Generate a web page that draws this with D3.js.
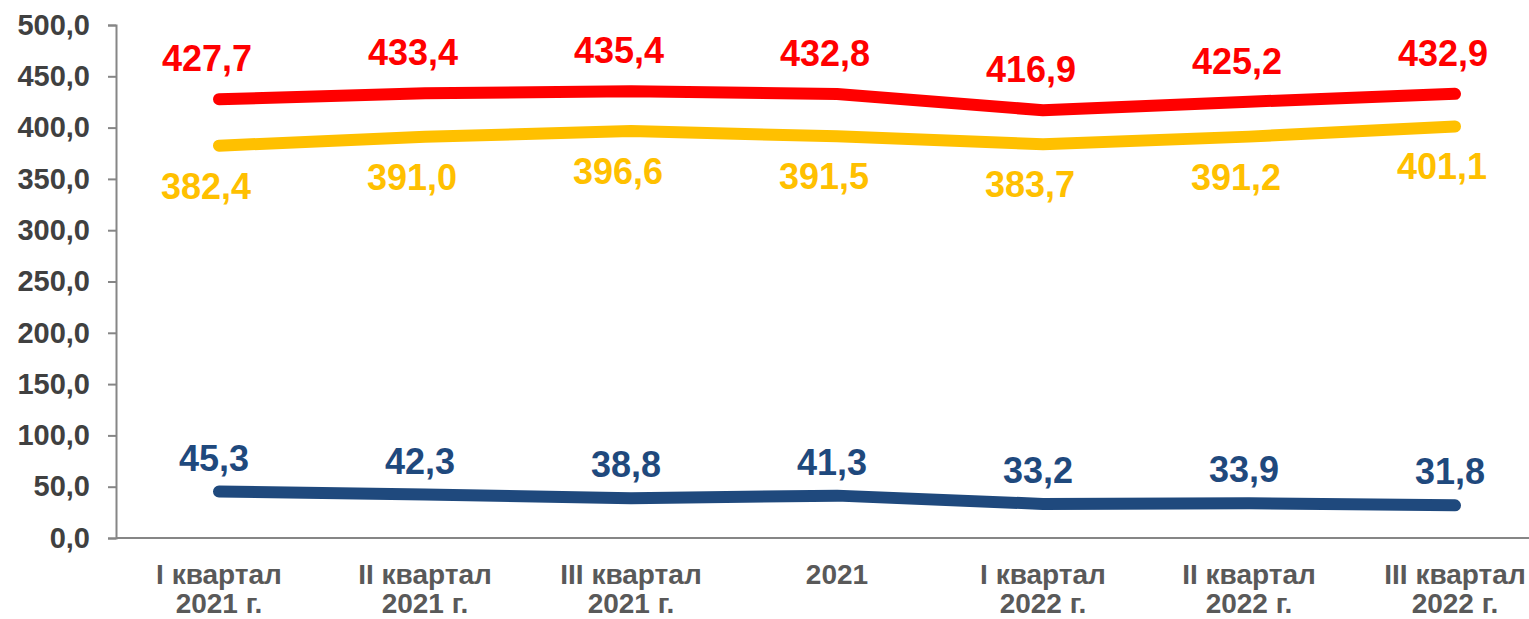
<!DOCTYPE html>
<html>
<head>
<meta charset="utf-8">
<script src="https://cdn.jsdelivr.net/npm/d3@7"></script>
<style>
  html, body { margin: 0; padding: 0; background: #fff; overflow: hidden; }
  text { font-family: "Liberation Sans", Arial, sans-serif; font-weight: bold; }
</style>
</head>
<body>
<script>
// 카테고리 (두 줄 레이블)
const categories = [
    ['I квартал', '2021 г.'],
    ['II квартал', '2021 г.'],
    ['III квартал', '2021 г.'],
    ['2021'],
    ['I квартал', '2022 г.'],
    ['II квартал', '2022 г.'],
    ['III квартал', '2022 г.']
];

// 시리즈 값
const redValues = [427.7, 433.4, 435.4, 432.8, 416.9, 425.2, 432.9];
const yellowValues = [382.4, 391.0, 396.6, 391.5, 383.7, 391.2, 401.1];
const blueValues = [45.3, 42.3, 38.8, 41.3, 33.2, 33.9, 31.8];

// Y축 눈금
const yTicks = [0, 50, 100, 150, 200, 250, 300, 350, 400, 450, 500];

function fmt(v) {
    return v.toFixed(1).replace('.', ',');
}

function renderSVG() {
    const width = 1529;
    const height = 619;
    const margin = {top: 25, left: 116, bottom: 81};

    const svg = d3.select('body')
        .append('svg')
        .attr('width', width)
        .attr('height', height);

    // 스케일
    const scaleX = d3.scaleBand()
        .domain(d3.range(categories.length))
        .range([margin.left, margin.left + 206 * categories.length]);

    const scaleY = d3.scaleLinear()
        .domain([0, 500])
        .range([height - margin.bottom, margin.top]);

    const cx = i => scaleX(i) + scaleX.bandwidth() / 2;

    // Y축
    const yAxis = d3.axisLeft(scaleY)
        .tickValues(yTicks)
        .tickSize(8)
        .tickPadding(18)
        .tickFormat(fmt);

    const gy = svg.append('g')
        .attr('transform', `translate(${margin.left}, 0)`)
        .call(yAxis);
    gy.select('.domain').attr('stroke', '#868686').attr('stroke-width', 2);
    gy.selectAll('.tick line').attr('stroke', '#868686').attr('stroke-width', 2);
    gy.selectAll('.tick text')
        .attr('fill', '#404040')
        .attr('font-size', '29px')
        .attr('font-family', '"Liberation Sans", Arial, sans-serif')
        .attr('font-weight', 'bold');

    // X축
    svg.append('line')
        .attr('x1', margin.left)
        .attr('x2', width)
        .attr('y1', scaleY(0))
        .attr('y2', scaleY(0))
        .attr('stroke', '#868686')
        .attr('stroke-width', 2);

    const catLabels = svg.selectAll('text.cat')
        .data(categories)
        .enter()
        .append('text')
        .attr('class', 'cat')
        .attr('text-anchor', 'middle')
        .attr('fill', '#595959')
        .attr('font-size', '28px')
        .attr('x', (d, i) => cx(i))
        .attr('y', scaleY(0) + 46);

    catLabels.selectAll('tspan')
        .data(d => d)
        .enter()
        .append('tspan')
        .attr('x', function() { return d3.select(this.parentNode).attr('x'); })
        .attr('dy', (d, j) => j === 0 ? 0 : 29)
        .text(d => d);

    // 선 시리즈
    const series = [
        { values: yellowValues, color: '#FFC000', dx: -13, dy: 53 },
        { values: redValues, color: '#FF0000', dx: -12, dy: -28 },
        { values: blueValues, color: '#1F497D', dx: -5, dy: -21 }
    ];

    const line = d3.line()
        .x((d, i) => cx(i))
        .y(d => scaleY(d));

    series.forEach(s => {
        svg.append('path')
            .datum(s.values)
            .attr('d', line)
            .attr('fill', 'none')
            .attr('stroke', s.color)
            .attr('stroke-width', 12)
            .attr('stroke-linecap', 'round')
            .attr('stroke-linejoin', 'round');
    });

    // 데이터 레이블
    series.forEach(s => {
        svg.selectAll(null)
            .data(s.values)
            .enter()
            .append('text')
            .attr('x', (d, i) => cx(i) + s.dx)
            .attr('y', d => scaleY(d) + s.dy)
            .attr('text-anchor', 'middle')
            .attr('fill', s.color)
            .attr('font-size', '36px')
            .text(d => fmt(d));
    });
}

window.addEventListener('load', function() {
    requestAnimationFrame(renderSVG);
});
</script>
</body>
</html>
